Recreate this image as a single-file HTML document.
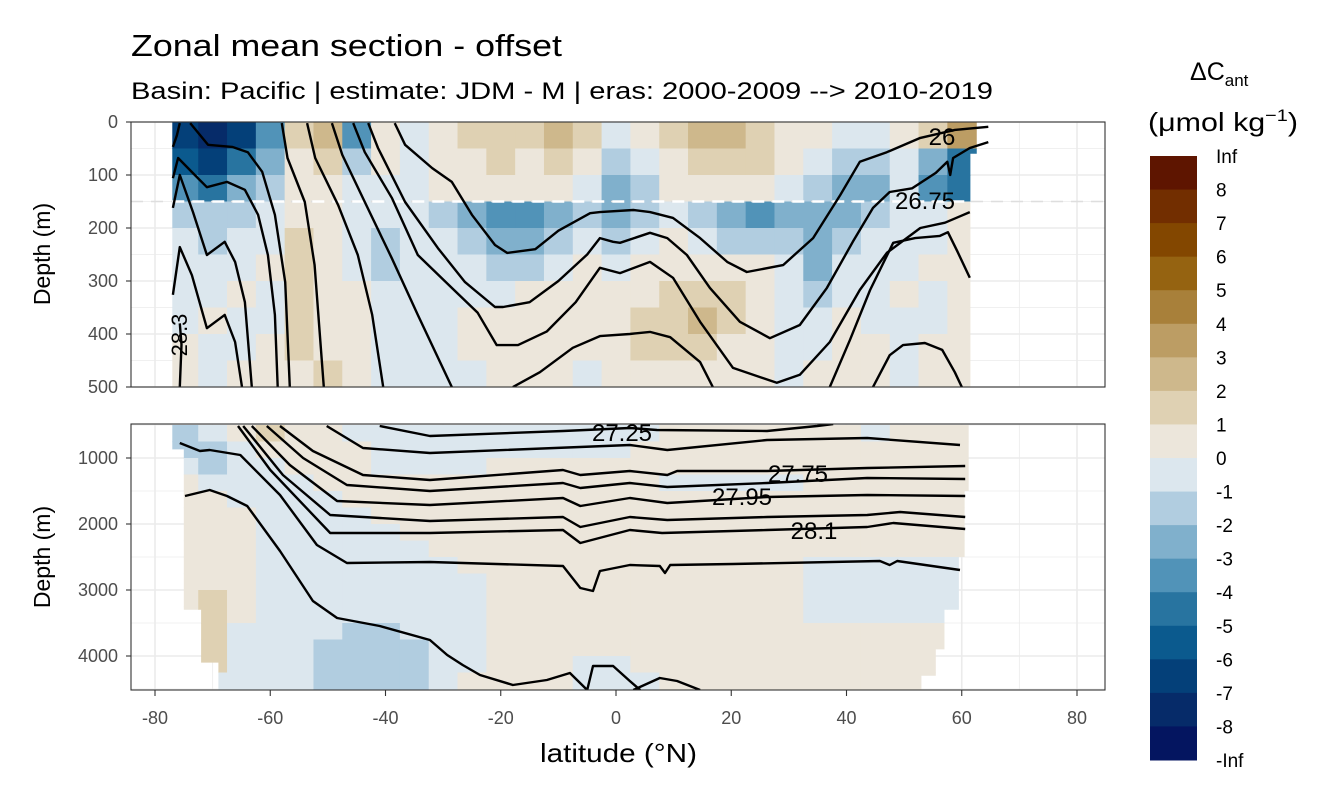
<!DOCTYPE html>
<html><head><meta charset="utf-8"><style>
body{margin:0;background:#fff;}
svg{display:block;font-family:"Liberation Sans",Arial,sans-serif;}
</style></head><body>
<svg id="chart" width="1344" height="806" viewBox="0 0 1344 806" xmlns="http://www.w3.org/2000/svg">
<text x="131" y="56" font-size="31" fill="#000" textLength="431" lengthAdjust="spacingAndGlyphs">Zonal mean section - offset</text>
<text x="131" y="99" font-size="24" fill="#000" textLength="862" lengthAdjust="spacingAndGlyphs">Basin: Pacific | estimate: JDM - M | eras: 2000-2009 --&gt; 2010-2019</text>
<g id="legend">
<text x="1190" y="80" font-size="25">ΔC<tspan font-size="17" dy="6">ant</tspan></text>
<text x="1148" y="131" font-size="26" textLength="150" lengthAdjust="spacingAndGlyphs">(μmol kg<tspan font-size="17" dy="-10">−1</tspan><tspan dy="10">)</tspan></text>
</g>
<text x="540" y="762" font-size="26" textLength="157" lengthAdjust="spacingAndGlyphs">latitude (°N)</text>
<text transform="translate(50,254) rotate(-90)" font-size="23" text-anchor="middle">Depth (m)</text>
<text transform="translate(50,557) rotate(-90)" font-size="23" text-anchor="middle">Depth (m)</text>
</svg>
<script>
// ---- data ----
const lats = [-75,-70,-65,-60,-55,-50,-45,-40,-35,-30,-25,-20,-15,-10,-5,0,5,10,15,20,25,30,35,40,45,50,55,60];
const topDepths = [25,75,125,175,225,275,325,375,425,475];
const topValues = [
[-6.5,-7.5,-6.5,-3.5,1.5,2.5,-3.5,0.5,-0.5,0.5,1.5,1.5,1.5,2.5,1.5,-0.5,0.5,1.5,2.5,2.5,1.5,0.5,0.5,-0.5,-0.5,0.5,1.5,3.5],
[-5.5,-6.5,-4.5,-2.5,0.5,1.5,-1.5,0.5,-0.5,0.5,0.5,1.5,0.5,1.5,0.5,-1.5,-0.5,0.5,1.5,1.5,1.5,0.5,-0.5,-1.5,-1.5,-0.5,-2.5,-4.5],
[-3.5,-4.5,-2.5,-1.5,0.5,0.5,-0.5,-0.5,-0.5,0.5,0.5,0.5,0.5,0.5,-0.5,-2.5,-1.5,0.5,0.5,0.5,0.5,-0.5,-1.5,-2.5,-2.5,-0.5,-3.5,-4.5],
[-1.5,-1.5,-1.5,-0.5,0.5,0.5,-0.5,-0.5,-0.5,-1.5,-2.5,-3.5,-3.5,-2.5,-1.5,-2.5,-1.5,-0.5,-1.5,-2.5,-3.5,-2.5,-2.5,-2.5,-1.5,-0.5,-0.5,0.5],
[-0.5,-1.5,-0.5,-0.5,1.5,0.5,-0.5,-1.5,-0.5,-0.5,-1.5,-2.5,-2.5,-1.5,-0.5,-1.5,-0.5,0.5,-0.5,-1.5,-1.5,-1.5,-2.5,-1.5,-0.5,-0.5,-0.5,0.5],
[-0.5,-0.5,-0.5,0.5,1.5,0.5,-0.5,-1.5,-0.5,-0.5,-0.5,-1.5,-1.5,-0.5,0.5,-0.5,0.5,0.5,0.5,0.5,0.5,-0.5,-2.5,-0.5,-0.5,-0.5,0.5,0.5],
[-0.5,-0.5,0.5,-0.5,1.5,0.5,0.5,-0.5,-0.5,-0.5,-0.5,-0.5,0.5,0.5,0.5,0.5,0.5,1.5,1.5,1.5,0.5,-0.5,-1.5,-0.5,-0.5,0.5,-0.5,0.5],
[-0.5,0.5,-0.5,-0.5,1.5,0.5,0.5,-0.5,-0.5,-0.5,0.5,0.5,0.5,0.5,0.5,0.5,1.5,1.5,2.5,1.5,0.5,-0.5,-0.5,0.5,-0.5,-0.5,-0.5,0.5],
[0.5,-0.5,-0.5,0.5,1.5,0.5,0.5,-0.5,-0.5,-0.5,0.5,0.5,0.5,0.5,0.5,0.5,1.5,1.5,1.5,0.5,0.5,-0.5,-0.5,0.5,0.5,-0.5,0.5,0.5],
[0.5,-0.5,0.5,0.5,0.5,1.5,0.5,-0.5,-0.5,-0.5,-0.5,0.5,0.5,0.5,-0.5,0.5,0.5,0.5,0.5,0.5,0.5,-0.5,0.5,0.5,0.5,-0.5,0.5,0.5]
];
const bottomDepths = [625,875,1125,1375,1625,1875,2125,2375,2625,2875,3125,3375,3625,3875,4125,4375];
const bottomValues = [
[-1.5,-0.5,0.5,1.5,0.5,0.5,-0.5,-0.5,-0.5,-0.5,-0.5,-0.5,-0.5,-0.5,-0.5,-0.5,-0.5,0.5,0.5,0.5,0.5,0.5,0.5,0.5,-0.5,0.5,0.5,0.5],
[-1.5,-1.5,-0.5,0.5,0.5,0.5,0.5,-0.5,-0.5,-0.5,-0.5,-0.5,-0.5,-0.5,-0.5,-0.5,0.5,0.5,0.5,0.5,0.5,0.5,0.5,0.5,0.5,0.5,0.5,0.5],
[-0.5,-1.5,-0.5,-0.5,0.5,0.5,0.5,-0.5,-0.5,-0.5,-0.5,0.5,0.5,0.5,0.5,0.5,0.5,0.5,0.5,0.5,0.5,0.5,0.5,0.5,0.5,0.5,0.5,0.5],
[0.5,-0.5,-0.5,-0.5,-0.5,0.5,0.5,0.5,0.5,0.5,0.5,0.5,0.5,0.5,0.5,0.5,0.5,-0.5,-0.5,-0.5,-0.5,-0.5,0.5,0.5,0.5,0.5,0.5,0.5],
[0.5,0.5,-0.5,-0.5,-0.5,-0.5,0.5,0.5,0.5,0.5,0.5,0.5,0.5,0.5,0.5,0.5,0.5,0.5,0.5,0.5,0.5,0.5,0.5,0.5,0.5,0.5,0.5,0.5],
[0.5,0.5,0.5,-0.5,-0.5,-0.5,-0.5,0.5,0.5,0.5,0.5,0.5,0.5,0.5,0.5,0.5,0.5,0.5,0.5,0.5,0.5,0.5,0.5,0.5,0.5,0.5,0.5,0.5],
[0.5,0.5,0.5,-0.5,-0.5,-0.5,-0.5,-0.5,0.5,0.5,0.5,0.5,0.5,0.5,0.5,0.5,0.5,0.5,0.5,0.5,0.5,0.5,0.5,0.5,0.5,0.5,0.5,0.5],
[0.5,0.5,0.5,-0.5,-0.5,-0.5,-0.5,-0.5,-0.5,0.5,0.5,0.5,0.5,0.5,0.5,0.5,0.5,0.5,0.5,0.5,0.5,0.5,0.5,0.5,0.5,0.5,0.5,0.5],
[0.5,0.5,0.5,-0.5,-0.5,-0.5,-0.5,-0.5,-0.5,-0.5,0.5,0.5,0.5,0.5,0.5,0.5,0.5,0.5,0.5,0.5,0.5,0.5,-0.5,-0.5,-0.5,-0.5,-0.5,-0.5],
[0.5,0.5,0.5,-0.5,-0.5,-0.5,-0.5,-0.5,-0.5,-0.5,-0.5,0.5,0.5,0.5,0.5,0.5,0.5,0.5,0.5,0.5,0.5,0.5,-0.5,-0.5,-0.5,-0.5,-0.5,-0.5],
[0.5,1.5,0.5,-0.5,-0.5,-0.5,-0.5,-0.5,-0.5,-0.5,-0.5,0.5,0.5,0.5,0.5,0.5,0.5,0.5,0.5,0.5,0.5,0.5,-0.5,-0.5,-0.5,-0.5,-0.5,-0.5],
[0.5,1.5,0.5,-0.5,-0.5,-0.5,-0.5,-0.5,-0.5,-0.5,-0.5,0.5,0.5,0.5,0.5,0.5,0.5,0.5,0.5,0.5,0.5,0.5,-0.5,-0.5,-0.5,-0.5,-0.5,-0.5],
[0.5,1.5,-0.5,-0.5,-0.5,-0.5,-1.5,-1.5,-0.5,-0.5,-0.5,0.5,0.5,0.5,0.5,0.5,0.5,0.5,0.5,0.5,0.5,0.5,0.5,0.5,0.5,0.5,0.5,0.5],
[0.5,1.5,-0.5,-0.5,-0.5,-1.5,-1.5,-1.5,-1.5,-0.5,-0.5,0.5,0.5,0.5,0.5,0.5,0.5,0.5,0.5,0.5,0.5,0.5,0.5,0.5,0.5,0.5,0.5,0.5],
[-0.5,1.5,-0.5,-0.5,-0.5,-1.5,-1.5,-1.5,-1.5,-0.5,-0.5,0.5,0.5,0.5,-0.5,-0.5,0.5,0.5,0.5,0.5,0.5,0.5,0.5,0.5,0.5,0.5,0.5,0.5],
[-0.5,-0.5,-0.5,-0.5,-0.5,-1.5,-1.5,-1.5,-1.5,-0.5,0.5,0.5,0.5,0.5,-0.5,-0.5,-0.5,0.5,0.5,0.5,0.5,0.5,0.5,0.5,0.5,0.5,0.5,0.5]
];
const topRegion = [[-77,0],[-77,500],[61.5,500],[61.5,60],[64.6,60],[64.6,0]];
const bottomRegion = [[-77,480],[-77,870],[-75,870],[-75,3300],[-72,3300],[-72,4100],[-69,4100],[-69,4520],[53,4520],[53,4300],[55.5,4300],[55.5,3900],[57,3900],[57,3300],[59.5,3300],[59.5,2500],[60.5,2500],[60.5,1500],[61.2,1500],[61.2,480]];
const topLines = [
[[-75.7,2],[-76.2,25],[-76.9,47]],
[[-76.9,326],[-75.7,236],[-73.6,289],[-71.0,389],[-67.9,364],[-66.1,415],[-64.9,500]],
[[-76.9,162],[-75.7,100],[-73.4,170],[-71.0,251],[-67.9,226],[-66.1,264],[-64.4,340],[-63.2,500]],
[[-76.9,106],[-76.0,68],[-73.1,100],[-71.0,123],[-67.5,113],[-64.4,128],[-62.1,175],[-60.4,251],[-59.2,364],[-58.7,500]],
[[-73.9,2],[-70.8,43],[-66.6,47],[-63.9,57],[-61.4,94],[-59.2,175],[-57.4,302],[-56.6,500]],
[[-58.0,2],[-57.0,68],[-54.0,151],[-52.3,270],[-50.7,500]],
[[-53.6,2],[-52.2,68],[-48.2,157],[-44.8,251],[-42.3,364],[-40.4,500]],
[[-49.3,2],[-47.5,62],[-43.6,151],[-38.9,257],[-34.4,364],[-28.5,500]],
[[-17.9,500],[-13.2,472],[-7.5,426],[-2.8,404],[2.4,400],[5.9,396],[9.4,406],[14.6,453],[16.8,500]],
[[-45.6,2],[-43.6,57],[-38.9,143],[-34.4,251],[-28.5,313],[-24,360],[-20.7,421],[-17,421],[-12,395],[-7,340],[-2.8,275],[0.7,285],[5.9,264],[9.9,294],[14.6,377],[20.3,464],[27.9,492],[31.9,477],[37.1,415],[42.3,317],[47.0,247],[52.8,200],[57.1,190],[59.7,178],[61.4,170]],
[[-43.0,2],[-41.3,49],[-36.6,151],[-30.9,238],[-26.2,302],[-21,349],[-19.6,349],[-15,340],[-10,300],[-5,250],[-2.8,219],[-0.5,226],[0.7,228],[5.9,209],[8.9,219],[12.3,251],[16.3,313],[21.5,377],[26.7,408],[31.9,383],[36.6,313],[41.1,226],[44.6,162],[47.5,132],[51.4,125],[55.5,96],[57.5,75],[58.0,100],[58.5,68],[61.4,49],[64.6,38]],
[[-38.4,2],[-36.6,43],[-31.9,87],[-28.5,113],[-25.0,175],[-21.0,232],[-18.9,247],[-14,240],[-10,205],[-4.5,172],[-2.8,170],[3.0,166],[5.9,170],[9.9,181],[14.6,219],[19.3,264],[22.7,283],[29.0,270],[34.2,219],[38.9,138],[42.3,75],[47.0,57],[52.8,30],[58.8,15],[64.6,9]],
[[37.1,500],[40.6,411],[44.1,317],[48.1,228],[51.9,219],[56.2,215],[57.6,208],[59.2,243],[61.4,294]],
[[44.6,500],[47.5,440],[49.8,421],[53.6,417],[56.6,430],[58.8,472],[60.0,500]],
[[-75.7,500],[-75.4,420],[-75.7,380]]
];
const bottomLines = [
[[-50.2,515],[-43.9,848],[-32.3,924],[2.4,803],[8.9,879],[26.2,727],[43.6,697],[59.7,803]],
[[-41.0,515],[-32.3,667],[-9.2,591],[2.4,545],[7.1,576],[26.2,591],[34.9,515],[37.7,485]],
[[-58.3,515],[-52.6,894],[-43.9,1258],[-32.3,1333],[-9.2,1182],[-6.2,1258],[2.4,1197],[8.9,1258],[10.6,1197],[26.2,1197],[43.6,1152],[60.6,1121]],
[[-60.6,515],[-54.3,1000],[-46.7,1409],[-32.3,1500],[-9.2,1379],[-6.2,1455],[2.4,1379],[8.9,1439],[26.2,1379],[43.6,1303],[60.6,1318]],
[[-63.2,515],[-56.6,1106],[-48.4,1652],[-32.3,1712],[-9.2,1606],[-6.2,1727],[2.4,1606],[8.9,1682],[26.2,1591],[43.6,1561],[60.6,1576]],
[[-64.7,515],[-57.8,1258],[-49.6,1864],[-32.3,1955],[-9.2,1894],[-6.2,2045],[2.4,1894],[8.9,1939],[26.2,1894],[43.6,1864],[49.3,1818],[60.6,1894]],
[[-65.6,515],[-60.0,1182],[-49.6,2136],[-32.3,2136],[-9.2,2091],[-6.2,2288],[2.4,2091],[8.0,2136],[26.2,2091],[43.6,2045],[48.1,1985],[60.6,2076]],
[[-75.7,773],[-72.2,894],[-70.5,879],[-65.2,955],[-58.3,1561],[-51.9,2318],[-46.7,2591],[-32.3,2576],[-9.2,2636],[-6.2,2970],[-4.0,3015],[-2.8,2712],[2.4,2621],[7.6,2636],[8.5,2742],[9.4,2621],[20.3,2606],[45.8,2561],[47.5,2621],[48.8,2561],[59.7,2697]],
[[-74.8,1576],[-70.5,1485],[-67.5,1576],[-64.0,1727],[-58.3,2409],[-52.6,3167],[-48.4,3424],[-41.0,3545],[-32.3,3758],[-29.3,3985],[-26.6,4136],[-23.6,4288],[-17.9,4439],[-12.0,4364],[-8.0,4258],[-5.0,4515],[-4.0,4152],[-0.5,4152],[2.4,4379],[4.2,4515]],
[[3.0,4515],[7.6,4333],[10.6,4379],[14.6,4515]]
];
const legendLabels = ["Inf","8","7","6","5","4","3","2","1","0","-1","-2","-3","-4","-5","-6","-7","-8","-Inf"];
const palette = ["#5e1500","#722e00","#834700","#956311","#a8803a","#bc9d64","#ceb88c","#dfd1b3","#ece6db","#dce7ee","#b1cde0","#80b0cc","#5193b8","#2874a0","#0b5a8e","#044079","#062b69","#041560"];
const xTicks = [-80,-60,-40,-20,0,20,40,60,80];
const topTicks = [0,100,200,300,400,500];
const bottomTicks = [1000,2000,3000,4000];

// ---- scales ----
const NS = "http://www.w3.org/2000/svg";
const svg = document.getElementById('chart');
const PX0 = 131, PX1 = 1105;
const xs = lat => 616 + lat * 5.7625;
const ysTop = d => 122 + d * 0.53;
const ysBot = d => 425 + (d - 500) * 0.066;
const panels = [
 {name:'upper', y0:122, y1:387, ys:ysTop, step:50, depths:topDepths, vals:topValues, region:topRegion, lines:topLines, ticks:topTicks, majors:[0,100,200,300,400,500], minors:[50,150,250,350,450]},
 {name:'lower', y0:424, y1:690, ys:ysBot, step:250, depths:bottomDepths, vals:bottomValues, region:bottomRegion, lines:bottomLines, ticks:bottomTicks, majors:[1000,2000,3000,4000], minors:[500,1500,2500,3500,4500]}
];
function mk(tag, attrs, parent){const e=document.createElementNS(NS,tag);for(const k in attrs)e.setAttribute(k,attrs[k]);(parent||svg).appendChild(e);return e;}
function colorOf(v){let i=8-Math.floor(v);if(i<0)i=0;if(i>17)i=17;return palette[i];}

panels.forEach((p,pi)=>{
  const g = mk('g',{});
  
  
  mk('rect',{x:PX0,y:p.y0,width:PX1-PX0,height:p.y1-p.y0,fill:'#fff'},g);
  [-70,-50,-30,-10,10,30,50,70].forEach(l=>mk('line',{x1:xs(l),x2:xs(l),y1:p.y0,y2:p.y1,stroke:'#ebebeb','stroke-width':0.8},g));
  p.minors.forEach(d=>{const y=p.ys(d);if(y>p.y0&&y<p.y1)mk('line',{x1:PX0,x2:PX1,y1:y,y2:y,stroke:'#ebebeb','stroke-width':0.8},g);});
  xTicks.forEach(l=>mk('line',{x1:xs(l),x2:xs(l),y1:p.y0,y2:p.y1,stroke:'#ebebeb','stroke-width':1.6},g));
  p.majors.forEach(d=>mk('line',{x1:PX0,x2:PX1,y1:p.ys(d),y2:p.ys(d),stroke:'#ebebeb','stroke-width':1.6},g));
  const defs = mk('defs',{},g);
  const cp = mk('clipPath',{id:'reg'+pi},defs);
  mk('polygon',{points:p.region.map(q=>xs(q[0])+','+p.ys(q[1])).join(' ')},cp);
  const cp2 = mk('clipPath',{id:'pan'+pi},defs);
  mk('rect',{x:PX0,y:p.y0,width:PX1-PX0,height:p.y1-p.y0},cp2);
  const hg = mk('g',{'clip-path':'url(#reg'+pi+')'},g);
  
  
  p.vals.forEach((row,ri)=>{
    const d=p.depths[ri];
    row.forEach((v,ci)=>{
      const lat=lats[ci];
      const x0=xs(lat-2.5), x1=xs(lat+2.5)+0.6;
      const ya=p.ys(d-p.step/2), yb=p.ys(d+p.step/2)+0.6;
      const r=mk('rect',{x:x0,y:ya,width:x1-x0,height:yb-ya,fill:colorOf(v)},hg);
      
      
    });
  });
  if(pi===0){
    const y=p.ys(150);
    mk('line',{x1:PX0,x2:PX1,y1:y,y2:y,stroke:'#dedede','stroke-width':1.5,'stroke-dasharray':'12 8'},g);
    const dl=mk('line',{x1:xs(-77),x2:xs(61.5),y1:y,y2:y,stroke:'#fff','stroke-width':2.5,'stroke-dasharray':'12 8','clip-path':'url(#reg0)'},g);
    
    
  }
  const lg = mk('g',{'clip-path':'url(#pan'+pi+')'},g);
  p.lines.forEach(line=>{
    const pl=mk('polyline',{points:line.map(q=>xs(q[0]).toFixed(1)+','+p.ys(q[1]).toFixed(1)).join(' '),fill:'none',stroke:'#000','stroke-width':2.4,'stroke-linejoin':'round'},lg);
    
    
  });
  mk('rect',{x:PX0,y:p.y0,width:PX1-PX0,height:p.y1-p.y0,fill:'none',stroke:'#333','stroke-width':1.1},g);
  p.ticks.forEach(d=>{
    const y=p.ys(d);
    mk('line',{x1:126,x2:PX0,y1:y,y2:y,stroke:'#333','stroke-width':1.1},g);
    const t=mk('text',{x:118,y:y+6,'font-size':18,fill:'#4d4d4d','text-anchor':'end'},g);
    t.textContent=d;
    
    
  });
});
[["26",942,145],["26.75",925,209],["27.25",622,441],["27.75",798,482],["27.95",742,505],["28.1",814,539]].forEach(a=>{
  const t=mk('text',{x:a[1],y:a[2],'font-size':24,'text-anchor':'middle',fill:'#000'});
  t.textContent=a[0];
  
  
});
const rl=mk('text',{transform:'translate(187,335) rotate(-90)','font-size':22,'text-anchor':'middle'});
rl.textContent='28.3';


xTicks.forEach(l=>{
  mk('line',{x1:xs(l),x2:xs(l),y1:690,y2:696,stroke:'#333','stroke-width':1.1});
  const t=mk('text',{x:xs(l),y:724,'font-size':18,fill:'#4d4d4d','text-anchor':'middle'});
  t.textContent=l;
  
  
});
const leg=document.getElementById('legend');
const bh=(760-156)/18;
palette.forEach((c,i)=>{
  const r=mk('rect',{x:1150,y:156+i*bh,width:47,height:bh+0.5,fill:c},leg);
  
  
});
legendLabels.forEach((s,i)=>{
  const t=mk('text',{x:1216,y:156+i*bh+7,'font-size':19,fill:'#000'},leg);
  t.textContent=s;
  
  
});
</script>
</body></html>
